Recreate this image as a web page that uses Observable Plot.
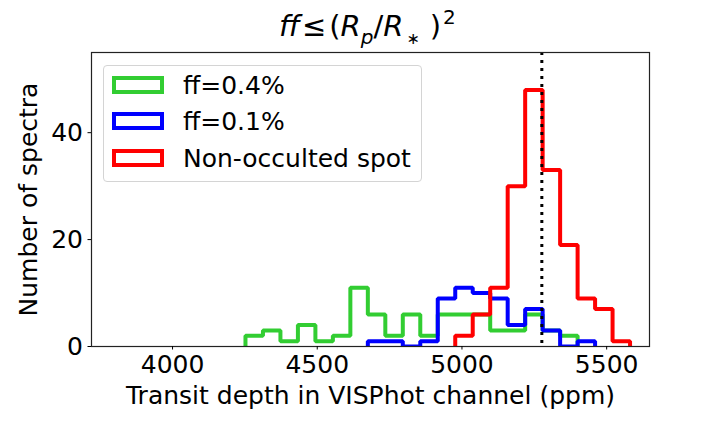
<!DOCTYPE html>
<html><head><meta charset="utf-8">
<script src="https://cdn.jsdelivr.net/npm/d3@7"></script>
<script src="https://cdn.jsdelivr.net/npm/@observablehq/plot@0.6"></script>
<style>
body{margin:0;background:#fff;}
#wrap{position:relative;width:720px;height:432px;font-family:"DejaVu Sans",sans-serif;color:#000;}
#title{position:absolute;top:12px;left:279px;white-space:nowrap;font-size:29px;line-height:1;}
#title i{font-style:oblique;}
#title .sub{font-size:20px;position:relative;top:8px;}
#title .sup{font-size:20px;position:relative;top:-12px;}
#legend{position:absolute;left:103px;top:65px;width:319px;height:117px;border:1px solid #d4d4d4;border-radius:4px;background:rgba(255,255,255,0.8);box-sizing:border-box;}
.patch{position:absolute;left:8px;width:52px;height:18px;border:4px solid;box-sizing:border-box;}
.ltext{position:absolute;left:79px;font-size:25px;line-height:1;white-space:nowrap;}
</style>
</head><body>
<div id="wrap">
<div id="chart"></div>
<div id="title"><i>ff</i><span style="margin-left:2px">≤</span><span style="margin-left:3px">(</span><i>R</i><span class="sub"><i>p</i></span>/<i>R</i><span class="sub" style="margin-left:3px;font-size:16px">∗</span><span style="margin-left:10px">)</span><span class="sup" style="margin-left:2px">2</span></div>
<div id="legend"></div>
</div>
<script>
// Bin edges (ppm), shared by all histograms
const binEdges = [4252, 4312.4, 4372.8, 4433.2, 4493.6, 4554, 4614.4, 4674.8, 4735.2, 4795.6, 4856, 4916.4, 4976.8, 5037.2, 5097.6, 5158, 5218.4, 5278.8, 5339.2, 5399.6, 5460, 5520.4, 5580.8];
const seriesNames = ["ff=0.4%", "ff=0.1%", "Non-occulted spot"];
const seriesColors = ["#32cd32", "#0000ff", "#ff0000"];
const seriesStartBin = [0, 7, 12];
const countsFF04 = [2, 3, 1, 4, 1, 2, 11, 6, 2, 6, 2, 6, 6, 6, 3, 3, 6, 3, 2];
const countsFF01 = [1, 1, 0, 1, 9, 11, 10, 9, 4, 7, 3, 0, 1];
const countsNonOcc = [2, 6, 11, 30, 48, 33, 19, 9, 7, 1];
const referenceDepth = [5276];
const xTicks = [4000, 4500, 5000, 5500];
const yTicks = [0, 20, 40];

const allCounts = [countsFF04, countsFF01, countsNonOcc];

function stepPoints(counts, start, name) {
  const pts = [{x: binEdges[start], y: 0, s: name}];
  counts.forEach((c, i) => {
    pts.push({x: binEdges[start + i], y: c, s: name});
    pts.push({x: binEdges[start + i + 1], y: c, s: name});
  });
  pts.push({x: binEdges[start + counts.length], y: 0, s: name});
  return pts;
}

const lineMarks = allCounts.map((c, k) =>
  Plot.line(stepPoints(c, seriesStartBin[k], seriesNames[k]), {
    x: "x", y: "y", stroke: seriesColors[k], strokeWidth: 4,
    strokeLinejoin: "miter", strokeLinecap: "butt", clip: true
  })
);

const chart = Plot.plot({
  width: 720, height: 432,
  marginLeft: 91, marginRight: 71, marginTop: 52, marginBottom: 86,
  style: {fontFamily: "DejaVu Sans, sans-serif", fontSize: "25px", color: "#000", background: "#fff"},
  x: {domain: [3720, 5648]},
  y: {domain: [0, 55]},
  marks: [
    ...lineMarks,
    Plot.ruleX(referenceDepth, {stroke: "#000", strokeWidth: 3, strokeDasharray: "3,5"}),
    Plot.frame({stroke: "#222", strokeWidth: 1.2}),
    Plot.axisX({ticks: xTicks, tickFormat: d => String(d), tickSize: 3.5, tickPadding: 5, fontSize: 25,
      label: "Transit depth in VISPhot channel (ppm)", labelAnchor: "center", labelArrow: "none", labelOffset: 57}),
    Plot.axisY({ticks: yTicks, tickFormat: d => String(d), tickSize: 3.5, tickPadding: 5, fontSize: 25,
      label: "Number of spectra", labelAnchor: "center", labelArrow: "none", labelOffset: 72})
  ]
});
document.getElementById("chart").appendChild(chart);

const legend = d3.select("#legend");
seriesNames.forEach((name, k) => {
  const cy = [18.5, 55, 91.5][k];
  legend.append("div").attr("class", "patch").style("top", (cy - 9) + "px").style("border-color", seriesColors[k]);
  legend.append("div").attr("class", "ltext").style("top", (cy - 12) + "px").text(name);
});
</script>
</body></html>
